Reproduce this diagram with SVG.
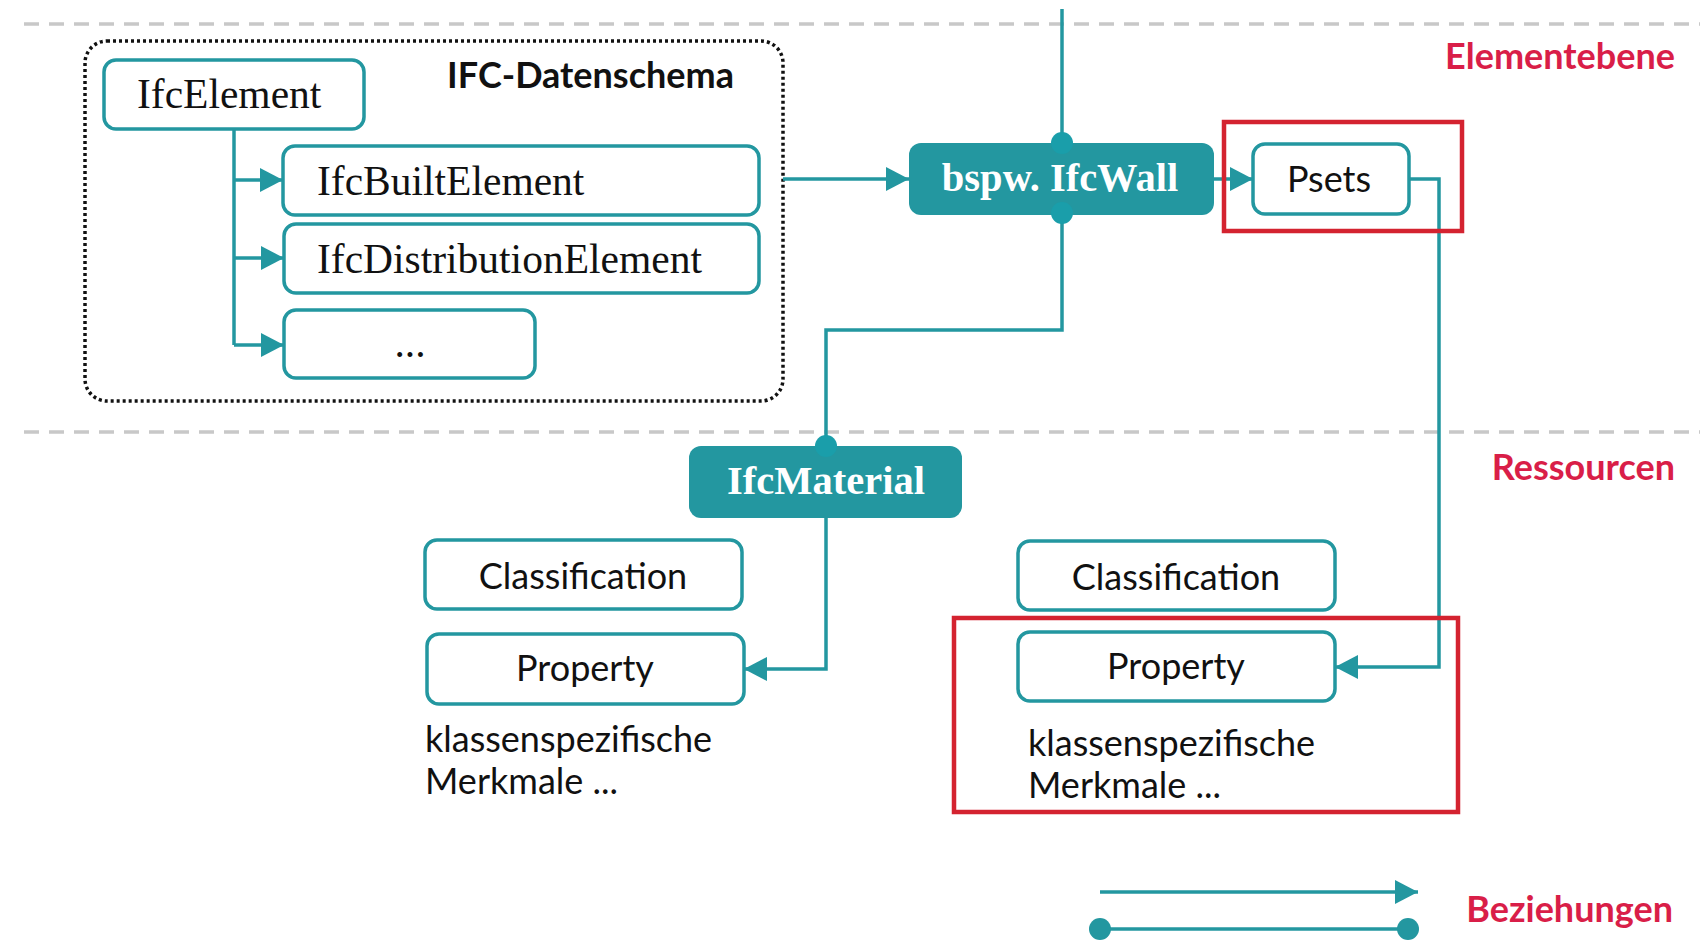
<svg xmlns="http://www.w3.org/2000/svg" width="1700" height="940" viewBox="0 0 1700 940">
<style>
.sep{stroke:#c8c8c8;stroke-width:3.5;stroke-dasharray:15 10;fill:none}
.box{fill:#fff;stroke:#2397a0;stroke-width:3.5}
.fbox{fill:#2397a0;stroke:none}
.con{fill:none;stroke:#2397a0;stroke-width:3.5}
.dot{fill:#1a9eaa}
.serif{font-family:"Liberation Serif",serif;font-size:41.5px;fill:#111}
.serifb{font-family:"Liberation Serif",serif;font-size:40.5px;font-weight:bold;fill:#fff}
.sans{font-family:Lato,"Liberation Sans",sans-serif;font-size:36px;fill:#111}
.lbl{font-family:Lato,"Liberation Sans",sans-serif;font-size:36px;font-weight:bold;fill:#d91e48;text-anchor:end}
.red{fill:none;stroke:#d42330;stroke-width:4.5}
</style>
<defs>
<marker id="arr" markerUnits="userSpaceOnUse" markerWidth="23" markerHeight="24" refX="23" refY="12" orient="auto">
<path d="M0,0 L23,12 L0,24 z" fill="#2397a0"/>
</marker>
</defs>
<g id="separators">
<line class="sep" x1="24" y1="24" x2="1700" y2="24"/>
<line class="sep" x1="24" y1="432" x2="1700" y2="432"/>
</g>
<g id="labels">
<text class="lbl" x="1675" y="69">Elementebene</text>
<text class="lbl" x="1675" y="480">Ressourcen</text>
<text class="lbl" x="1673" y="922">Beziehungen</text>
</g>
<g id="schema">
<rect x="85" y="41" width="698" height="360" rx="22" fill="none" stroke="#111" stroke-width="3.5" stroke-dasharray="3 3"/>
<text x="734" y="88" font-family="Lato,'Liberation Sans',sans-serif" font-size="36" font-weight="bold" fill="#111" text-anchor="end">IFC-Datenschema</text>
</g>
<g id="connectors">
<path class="con" d="M234,129 V345"/>
<path class="con" d="M234,180 H283" marker-end="url(#arr)"/>
<path class="con" d="M234,258 H284" marker-end="url(#arr)"/>
<path class="con" d="M234,345 H284" marker-end="url(#arr)"/>
<path class="con" d="M783,179 H909" marker-end="url(#arr)"/>
<path class="con" d="M1062,9 V143"/>
<path class="con" d="M1214,179 H1253" marker-end="url(#arr)"/>
<path class="con" d="M1409,179 H1439 V667 H1335" marker-end="url(#arr)"/>
<path class="con" d="M1062,213 V330 H826 V446"/>
<path class="con" d="M826,518 V669 H744" marker-end="url(#arr)"/>
</g>
<g id="IfcElement">
<rect class="box" x="104" y="60" width="260" height="69" rx="12"/>
<text class="serif" x="137" y="108">IfcElement</text>
</g>
<g id="IfcBuiltElement">
<rect class="box" x="283" y="146" width="476" height="69" rx="12"/>
<text class="serif" x="317" y="195">IfcBuiltElement</text>
</g>
<g id="IfcDistributionElement">
<rect class="box" x="284" y="224" width="475" height="69" rx="12"/>
<text class="serif" x="317" y="273">IfcDistributionElement</text>
</g>
<g id="MoreElements">
<rect class="box" x="284" y="310" width="251" height="68" rx="12"/>
<text class="serif" x="410" y="357" text-anchor="middle">...</text>
</g>
<g id="IfcWall">
<rect class="fbox" x="909" y="143" width="305" height="72" rx="12"/>
<text class="serifb" x="1060" y="191" text-anchor="middle">bspw. IfcWall</text>
<circle class="dot" cx="1062" cy="143" r="11"/>
<circle class="dot" cx="1062" cy="213" r="11"/>
</g>
<g id="Psets">
<rect class="red" x="1224" y="122" width="238" height="109"/>
<rect class="box" x="1253" y="144" width="156" height="70" rx="12"/>
<text class="sans" x="1329" y="192" text-anchor="middle">Psets</text>
</g>
<g id="IfcMaterial">
<rect class="fbox" x="689" y="446" width="273" height="72" rx="12"/>
<text class="serifb" x="826" y="494" text-anchor="middle">IfcMaterial</text>
<circle class="dot" cx="826" cy="446" r="11"/>
</g>
<g id="Classification1">
<rect class="box" x="425" y="540" width="317" height="69" rx="12"/>
<text class="sans" x="583" y="589" text-anchor="middle">Classification</text>
</g>
<g id="Property1">
<rect class="box" x="427" y="634" width="317" height="70" rx="12"/>
<text class="sans" x="585" y="681" text-anchor="middle">Property</text>
<text class="sans" x="425" y="752">klassenspezifische</text>
<text class="sans" x="425" y="794">Merkmale ...</text>
</g>
<g id="Classification2">
<rect class="box" x="1018" y="541" width="317" height="69" rx="12"/>
<text class="sans" x="1176" y="590" text-anchor="middle">Classification</text>
</g>
<g id="Property2">
<rect class="red" x="954" y="618" width="504" height="194"/>
<rect class="box" x="1018" y="632" width="317" height="69" rx="12"/>
<text class="sans" x="1176" y="679" text-anchor="middle">Property</text>
<text class="sans" x="1028" y="756">klassenspezifische</text>
<text class="sans" x="1028" y="798">Merkmale ...</text>
</g>
<g id="legend">
<path class="con" d="M1100,892 H1418" marker-end="url(#arr)"/>
<path class="con" d="M1100,929 H1408"/>
<circle cx="1100" cy="929" r="11" fill="#2397a0"/>
<circle cx="1408" cy="929" r="11" fill="#2397a0"/>
</g>
</svg>
